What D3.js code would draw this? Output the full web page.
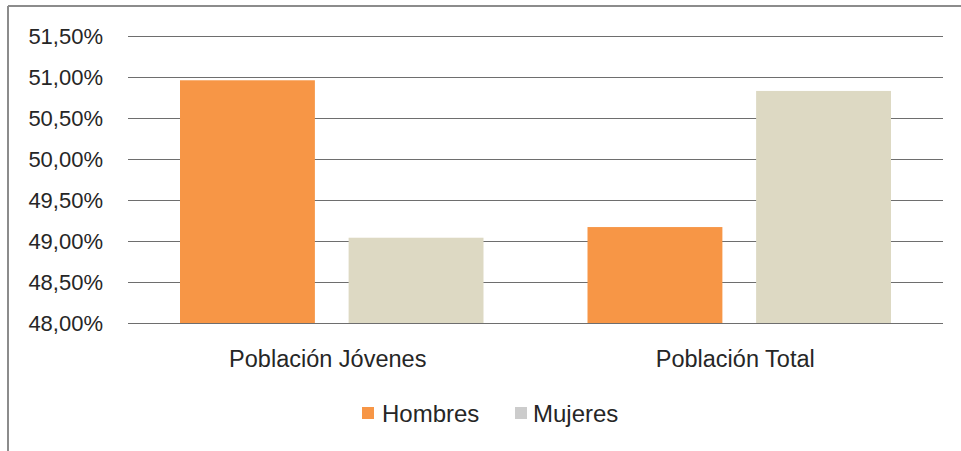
<!DOCTYPE html>
<html>
<head>
<meta charset="utf-8">
<script src="https://cdn.jsdelivr.net/npm/d3@7"></script>
<style>
  html, body { margin: 0; padding: 0; background: #fff; }
  svg { display: block; }
  text { font-family: "Liberation Sans", Arial, sans-serif; fill: #262626; }
</style>
</head>
<body>
<svg id="chart" width="961" height="451"></svg>
<script>
const categories = ["Población Jóvenes", "Población Total"];
const seriesNames = ["Hombres", "Mujeres"];
const hombres = [50.96, 49.17];
const mujeres = [49.04, 50.83];
const yTicks = [48.0, 48.5, 49.0, 49.5, 50.0, 50.5, 51.0, 51.5];
const colors = ["#F79646", "#DDD9C3"];

const svg = d3.select("#chart");
const W = 961, H = 451;

// chart border (left + top)
svg.append("line").attr("x1", 8).attr("x2", 8).attr("y1", 6).attr("y2", H)
  .attr("stroke", "#8c8c8c").attr("stroke-width", 2);
svg.append("line").attr("x1", 8).attr("x2", W).attr("y1", 6).attr("y2", 6)
  .attr("stroke", "#8c8c8c").attr("stroke-width", 2);

const plot = { left: 128, right: 943, top: 36, bottom: 323 };

const y = d3.scaleLinear().domain([48, 51.5]).range([plot.bottom, plot.top]);
const x0 = d3.scaleBand().domain(categories).range([plot.left, plot.right]).padding(0);
const x1 = d3.scaleBand().domain(seriesNames)
  .range([52, x0.bandwidth() - 52]).paddingInner(0.2).paddingOuter(0);

const fmt = v => d3.format(".2f")(v).replace(".", ",") + "%";

// gridlines
svg.append("g").selectAll("line").data(yTicks).join("line")
  .attr("x1", plot.left).attr("x2", plot.right)
  .attr("y1", d => Math.round(y(d)) + 0.5).attr("y2", d => Math.round(y(d)) + 0.5)
  .attr("stroke", "#6e6e6e").attr("stroke-width", 1.2);

// y axis labels
const yAxis = d3.axisLeft(y).tickValues(yTicks).tickFormat(fmt).tickSize(0).tickPadding(0);
const gy = svg.append("g").attr("transform", `translate(103,0)`).call(yAxis);
gy.select(".domain").remove();
gy.selectAll("text").style("font-size", "22px").style("font-family", "Liberation Sans, Arial, sans-serif").attr("fill", "#1f1f1f");

// bars
const data = categories.map((c, i) => ({ cat: c, values: [hombres[i], mujeres[i]] }));
const groups = svg.append("g").selectAll("g").data(data).join("g")
  .attr("transform", d => `translate(${x0(d.cat)},0)`);
groups.selectAll("rect").data(d => d.values.map((v, j) => ({ s: seriesNames[j], v, j })))
  .join("rect")
  .attr("x", d => x1(d.s))
  .attr("width", x1.bandwidth())
  .attr("y", d => y(d.v))
  .attr("height", d => y(48) - y(d.v))
  .attr("fill", d => colors[d.j]);

// baseline redraw on top
svg.append("line").attr("x1", plot.left).attr("x2", plot.right)
  .attr("y1", Math.round(y(48)) + 0.5).attr("y2", Math.round(y(48)) + 0.5)
  .attr("stroke", "#6e6e6e").attr("stroke-width", 1.2);

// category labels
const xAxis = d3.axisBottom(x0).tickSize(0).tickPadding(0);
const gx = svg.append("g").attr("transform", `translate(-4,${plot.bottom + 27})`).call(xAxis);
gx.select(".domain").remove();
gx.selectAll("text").style("font-size", "23.5px").style("font-family", "Liberation Sans, Arial, sans-serif").attr("fill", "#1f1f1f");

// legend
const legendItems = [
  { name: seriesNames[0], color: colors[0], mx: 362, tx: 382 },
  { name: seriesNames[1], color: "#cccccc", mx: 515, tx: 533 }
];
const lg = svg.append("g");
lg.selectAll("rect").data(legendItems).join("rect")
  .attr("x", d => d.mx).attr("y", 407).attr("width", 12).attr("height", 12)
  .attr("fill", d => d.color);
lg.selectAll("text").data(legendItems).join("text")
  .attr("x", d => d.tx).attr("y", 413).attr("dy", "0.36em")
  .style("font-size", "24px").attr("fill", "#1f1f1f").text(d => d.name);
</script>
</body>
</html>
